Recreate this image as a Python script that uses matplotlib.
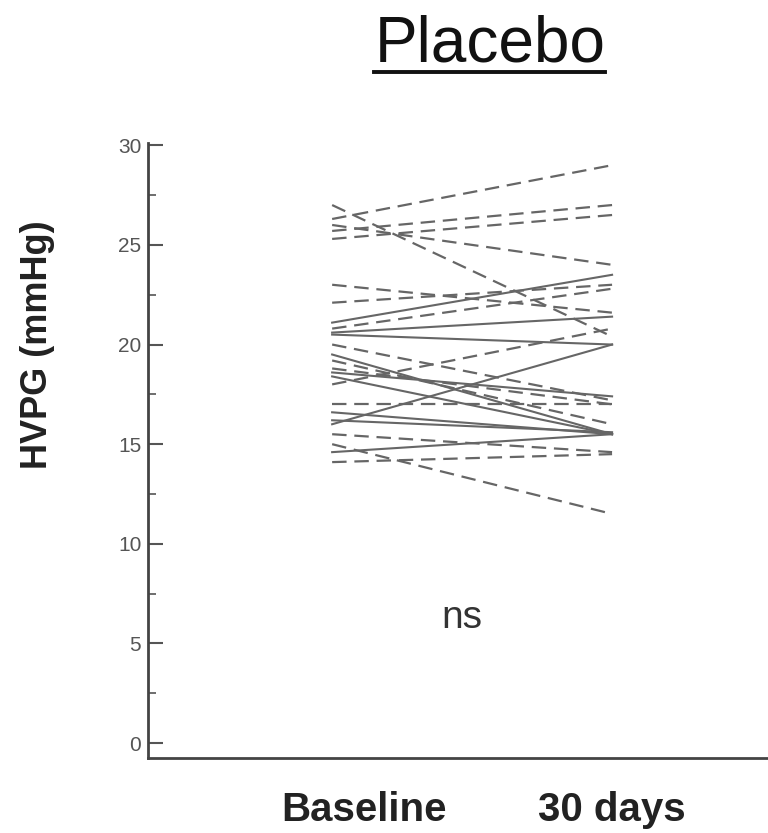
import matplotlib
matplotlib.use("Agg")
import matplotlib.pyplot as plt
import matplotlib.ticker as ticker
import matplotlib.transforms as mtransforms
from matplotlib.lines import Line2D

plt.rcParams["font.family"] = ["Liberation Sans", "DejaVu Sans"]

# HVPG (mmHg) per patient, baseline -> 30 days
dashed_baseline = [27.0, 26.3, 25.7, 25.3, 26.0, 23.0, 22.1, 20.8, 20.0, 19.2, 18.8, 18.0, 17.0, 15.5, 15.0, 14.1]
dashed_30days = [20.4, 29.0, 27.0, 26.5, 24.0, 21.6, 23.0, 22.8, 17.2, 16.0, 17.0, 20.8, 17.0, 14.6, 11.5, 14.5]
solid_baseline = [21.1, 20.6, 20.5, 16.0, 19.5, 18.6, 18.4, 16.6, 16.2, 14.6]
solid_30days = [23.5, 21.4, 20.0, 20.0, 15.5, 17.4, 15.5, 15.5, 15.6, 15.5]

timepoints = ["Baseline", "30 days"]
title = "Placebo"
note = "ns"

fig = plt.figure(figsize=(7.68, 8.33), dpi=100)
ax = fig.add_axes([0.193, 0.09, 0.807, 0.738])

line_color = "#666666"
for b, d in zip(dashed_baseline, dashed_30days):
    ax.plot([0, 1], [b, d], color=line_color, lw=1.6, dashes=(6.5, 3.5))
for b, d in zip(solid_baseline, solid_30days):
    ax.plot([0, 1], [b, d], color=line_color, lw=1.5)

ax.set_xlim(-0.657, 1.557)
ax.set_ylim(-0.75, 30.1)

ax.spines["top"].set_visible(False)
ax.spines["right"].set_visible(False)
for s in ("left", "bottom"):
    ax.spines[s].set_color("#444444")
    ax.spines[s].set_linewidth(2)

ax.yaxis.set_major_locator(ticker.MultipleLocator(5))
ax.yaxis.set_minor_locator(ticker.MultipleLocator(2.5))
ax.tick_params(axis="y", which="major", direction="in", length=11, width=1.5,
               color="#555555", labelsize=15, labelcolor="#555555", pad=5)
ax.tick_params(axis="y", which="minor", direction="in", length=6, width=1.2, color="#555555")

ax.set_xticks([0, 1])
ax.set_xticklabels(timepoints, fontsize=29, fontweight="bold", color="#222222")
ax.tick_params(axis="x", length=0, pad=24)
shift = mtransforms.ScaledTranslation(0.32, 0, fig.dpi_scale_trans)
lbl = ax.get_xticklabels()[0]
lbl.set_transform(lbl.get_transform() + shift)

ax.set_ylabel("HVPG (mmHg)", fontsize=26, fontweight="bold", color="#222222")
ax.yaxis.set_label_coords(-0.15, 0.672)

ax.text(0.464, 6.3, note, fontsize=28, color="#333333", ha="center", va="center")

t = fig.text(0.638, 0.947, title, fontsize=46, ha="center", va="center", color="#111111")
fig.canvas.draw()
bb = t.get_window_extent().transformed(fig.transFigure.inverted())
y_ul = bb.y0 + 0.002
fig.add_artist(Line2D([bb.x0, bb.x1], [y_ul, y_ul], transform=fig.transFigure,
                      color="#111111", lw=2.8))

fig.savefig("out.png", dpi=100)
